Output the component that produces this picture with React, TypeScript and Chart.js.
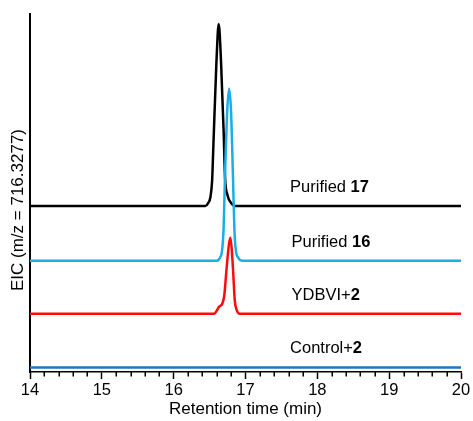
import React, { useEffect, useRef } from "react";
import { Chart, registerables } from "chart.js";

Chart.register(...registerables);

// Retention time (min) and EIC signal (arbitrary units) for each trace
const purified17Time = [14, 16.44, 16.48, 16.512, 16.535, 16.555, 16.595, 16.627, 16.66, 16.697, 16.715, 16.75, 16.8, 16.85, 20];
const purified17Signal = [0, 0, 0.8, 2.5, 7, 18, 40, 50.8, 40, 20, 8, 3, 0.8, 0, 0];

const purified16Time = [14, 16.6, 16.645, 16.675, 16.695, 16.715, 16.746, 16.771, 16.798, 16.825, 16.845, 16.865, 16.9, 16.95, 20];
const purified16Signal = [0, 0, 0.8, 3, 9, 24, 42, 48, 42, 24, 9, 3, 0.8, 0, 0];

const ydbviTime = [14, 16.565, 16.599, 16.631, 16.679, 16.704, 16.735, 16.767, 16.79, 16.812, 16.83, 16.85, 16.878, 16.92, 20];
const ydbviSignal = [0, 0, 0.8, 1.9, 2.9, 5, 12.2, 19, 21.2, 17, 11, 3.8, 1, 0, 0];

const controlTime = [14, 20];
const controlSignal = [0, 0];

// vertical stacking offsets of traces (same units as signal)
const traceOffsets = [46.4, 31.1, 16.3, 1.26];
const traceColors = ["#000000", "#1aaee8", "#ff0a0a", "#2274c4"];
const traceLabelText = ["Purified ", "Purified ", "YDBVI+", "Control+"];
const traceLabelBold = ["17", "16", "2", "2"];
const traceLabelX = [17.62, 17.64, 17.64, 17.62];
const labelRise = 5.2;

const xMajorTicks = [14, 15, 16, 17, 18, 19, 20];
const xMinorStep = 0.2;

const FONT = "'Liberation Sans', Arial, sans-serif";

export default function App() {
  const ref = useRef<HTMLCanvasElement | null>(null);

  useEffect(() => {
    if (!ref.current) return;
    const times = [purified17Time, purified16Time, ydbviTime, controlTime];
    const signals = [purified17Signal, purified16Signal, ydbviSignal, controlSignal];
    const mk = (i: number) => ({
      label: traceLabelText[i] + traceLabelBold[i],
      data: times[i].map((t, j) => ({ x: t, y: signals[i][j] + traceOffsets[i] })),
      borderColor: traceColors[i],
      backgroundColor: traceColors[i],
      borderWidth: 2.5,
      pointRadius: 0,
      cubicInterpolationMode: "monotone" as const,
      fill: false,
    });
    // draw order: first dataset on top
    const datasets = [mk(2), mk(1), mk(0), mk(3)];

    const decor = {
      id: "decor",
      afterDraw(chart: any) {
        const { ctx, scales } = chart;
        const xs = scales.x;
        const ys = scales.y;
        const bottom = chart.chartArea.bottom;
        ctx.save();
        // minor ticks
        ctx.strokeStyle = "#000";
        ctx.lineWidth = 1.5;
        for (let v = xMajorTicks[0] + xMinorStep; v < xMajorTicks[xMajorTicks.length - 1] - 1e-6; v += xMinorStep) {
          if (Math.abs(v - Math.round(v)) < 1e-6) continue;
          const px = Math.round(xs.getPixelForValue(v)) + 0.25;
          ctx.beginPath();
          ctx.moveTo(px, bottom);
          ctx.lineTo(px, bottom + 4.5);
          ctx.stroke();
        }
        // y title
        ctx.fillStyle = "#000";
        ctx.font = `17px ${FONT}`;
        ctx.textAlign = "center";
        ctx.textBaseline = "middle";
        ctx.translate(18.5, 210);
        ctx.rotate(-Math.PI / 2);
        ctx.fillText("EIC (m/z = 716.3277)", 0, 0);
        ctx.restore();

        // trace labels
        ctx.save();
        ctx.fillStyle = "#000";
        ctx.textBaseline = "middle";
        ctx.textAlign = "left";
        for (let i = 0; i < traceLabelText.length; i++) {
          const px = xs.getPixelForValue(traceLabelX[i]);
          const py = ys.getPixelForValue(traceOffsets[i] + labelRise);
          ctx.font = `16.5px ${FONT}`;
          ctx.fillText(traceLabelText[i], px, py);
          const w = ctx.measureText(traceLabelText[i]).width;
          ctx.font = `bold 16.5px ${FONT}`;
          ctx.fillText(traceLabelBold[i], px + w, py);
        }
        ctx.restore();
      },
    };

    const chart = new Chart(ref.current, {
      type: "line",
      data: { datasets },
      options: {
        animation: false,
        responsive: false,
        maintainAspectRatio: false,
        layout: { padding: { left: 0, top: 14, right: 12, bottom: 0 } },
        plugins: { legend: { display: false }, tooltip: { enabled: false } },
        scales: {
          x: {
            type: "linear",
            min: 14,
            max: 20,
            afterBuildTicks: (s: any) => {
              s.ticks = xMajorTicks.map((v) => ({ value: v }));
            },
            afterFit: (s: any) => {
              s.height = 49;
            },
            ticks: {
              color: "#000",
              font: { family: FONT, size: 16.5 },
              padding: 2,
              maxRotation: 0,
              autoSkip: false,
            },
            grid: {
              drawOnChartArea: false,
              drawTicks: true,
              tickLength: 7,
              tickColor: "#000",
              tickWidth: 1.5,
            },
            border: { color: "#000", width: 1.5 },
            title: {
              display: true,
              text: "Retention time (min)",
              color: "#000",
              font: { family: FONT, size: 17 },
              padding: { top: 0, bottom: 1 },
            },
          },
          y: {
            type: "linear",
            min: 0,
            max: 100,
            afterFit: (s: any) => {
              s.width = 30;
            },
            ticks: { display: false },
            grid: { drawOnChartArea: false, drawTicks: false },
            border: { color: "#000", width: 2 },
          },
        },
      },
      plugins: [decor],
    });
    return () => chart.destroy();
  }, []);

  return (
    <div style={{ position: "absolute", left: 0, top: 0, width: 473, height: 421, background: "#fff" }}>
      <canvas ref={ref} width={473} height={421} style={{ width: 473, height: 421, display: "block" }} />
    </div>
  );
}
